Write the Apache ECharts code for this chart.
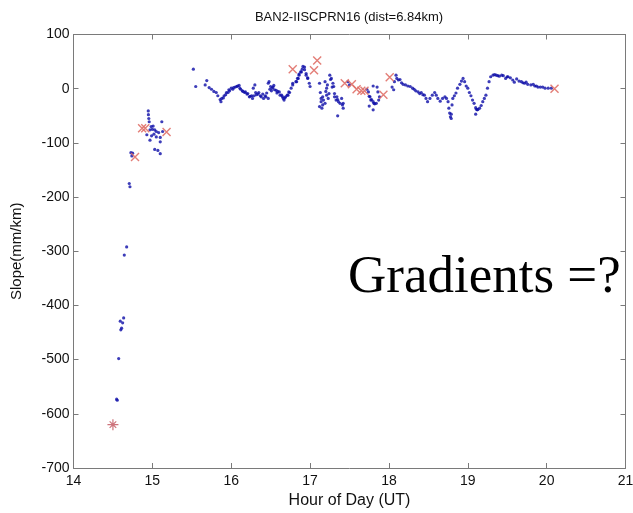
<!DOCTYPE html>
<html><head><meta charset="utf-8">
<script src="https://cdn.jsdelivr.net/npm/echarts@6/dist/echarts.min.js"></script>
<style>html,body{margin:0;padding:0;background:#fff}#c{width:633px;height:513px}</style>
</head><body><div id="c"></div>
<script>
var titleText = 'BAN2-IISCPRN16 (dist=6.84km)';
var xName = 'Hour of Day (UT)';
var yName = 'Slope(mm/km)';
var noteText = 'Gradients =?';
var xTicks = [14, 15, 16, 17, 18, 19, 20, 21];
var yTicks = [100, 0, -100, -200, -300, -400, -500, -600, -700];

// blue slope estimates [hour, slope]
var slopePoints = [
[14.547,-573],[14.555,-575],[14.573,-498],[14.593,-429],[14.60,-445],[14.61,-442],[14.623,-432],[14.636,-423],[14.644,-307],[14.674,-292],
[14.707,-175],[14.716,-181],[14.728,-118],[14.74,-124],[14.75,-119],
[14.93,-85],[14.948,-41],[14.95,-48],[14.955,-55],[14.96,-61],[14.97,-95],[14.97,-76],[14.985,-70],[14.99,-87],[15.0,-75],[15.01,-69],
[15.02,-84],[15.03,-112],[15.03,-76],[15.05,-79],[15.05,-89],[15.07,-114],[15.08,-81],[15.1,-98],[15.1,-120],[15.1,-90],[15.12,-61],[15.13,-79],
[15.52,36],[15.55,4],
[15.67,7],[15.69,15],[15.72,2],[15.75,-1],[15.78,-5],[15.81,-7],[15.83,-13],[15.86,-20],[15.87,-24],[15.88,-18],[15.9,-17],[15.91,-13],
[15.93,-11],[15.94,-7],[15.96,-7],[15.97,-2],[15.98,-4],[16.0,1],[16.02,-1],[16.03,2],[16.05,3],[16.07,4],[16.08,5],[16.1,6],[16.11,1],
[16.12,-1],[16.14,-4],[16.15,-5],[16.17,-7],[16.18,-6],[16.2,-10],[16.21,-9],[16.23,-15],[16.24,-14],[16.26,-13],[16.27,-18],[16.28,1],
[16.29,-13],[16.3,7],[16.31,-7],[16.32,-11],[16.34,-10],[16.35,-7],[16.37,-13],[16.38,-15],[16.4,-10],[16.41,-18],[16.43,-13],[16.44,-15],
[16.45,-8],[16.47,-18],[16.47,10],[16.48,13],[16.49,-1],[16.5,4],[16.51,-4],[16.52,1],[16.53,3],[16.54,6],[16.55,-2],[16.57,-3],[16.58,-8],
[16.59,-5],[16.61,-6],[16.62,-12],[16.64,-12],[16.65,-15],[16.66,-18],[16.67,-21],[16.68,-17],[16.69,-15],[16.71,-12],[16.72,-12],[16.73,-6],
[16.74,-7],[16.76,1],[16.78,7],[16.78,10],[16.82,13],[16.83,13],[16.84,19],[16.85,19],[16.86,25],[16.86,27],[16.88,31],[16.89,31],[16.9,36],
[16.91,41],[16.93,35],[16.93,40],[16.95,28],[16.95,25],[16.97,20],[16.97,19],[16.99,10],[17.0,4],
[17.12,10],[17.12,-33],[17.13,-7],[17.14,-18],[17.14,-24],[17.15,-36],[17.16,-30],[17.16,-15],[17.17,-21],[17.19,13],[17.19,-27],[17.2,-5],
[17.21,1],[17.21,-12],[17.22,7],[17.23,-18],[17.24,-9],[17.25,25],[17.26,17],[17.27,19],[17.28,3],[17.29,10],[17.3,4],[17.31,-9],[17.31,-15],
[17.33,-21],[17.34,-15],[17.35,-50],[17.35,-20],[17.36,-24],[17.38,-27],[17.4,-18],[17.41,-30],[17.42,-36],[17.42,-27],
[17.48,13],[17.5,7],
[17.72,-1],[17.74,-6],[17.75,-32],[17.75,-14],[17.76,-15],[17.77,-21],[17.78,-20],[17.8,-24],[17.8,-39],[17.8,5],[17.81,-27],[17.82,-28],
[17.84,-27],[17.85,3],[17.86,-6],[17.87,-21],[17.88,-15],
[18.04,3],[18.06,-2],[18.07,13],[18.09,25],[18.1,19],[18.12,16],[18.14,17],[18.16,11],[18.18,8],[18.21,7],[18.24,5],[18.27,4],[18.3,1],
[18.32,-1],[18.34,-4],[18.37,-6],[18.39,-9],[18.41,-7],[18.43,-11],[18.45,-12],[18.47,-18],[18.49,-24],[18.52,-18],[18.55,-12],[18.58,-7],
[18.6,-12],[18.62,-18],[18.65,-23],[18.68,-18],[18.71,-15],[18.73,-18],[18.75,-24],[18.76,-36],[18.77,-45],[18.78,-52],[18.79,-47],[18.79,-55],
[18.8,-30],[18.81,-18],[18.83,-13],[18.85,-8],[18.87,1],[18.9,8],[18.92,14],[18.94,19],[18.96,13],[18.98,5],[19.0,1],[19.02,-7],[19.04,-13],
[19.06,-21],[19.08,-27],[19.1,-35],[19.1,-47],[19.11,-38],[19.12,-39],[19.13,-38],[19.15,-36],[19.17,-31],[19.19,-24],[19.21,-18],[19.23,-12],
[19.25,1],[19.27,13],[19.29,22],[19.32,25],[19.34,26],[19.36,25],[19.38,24],[19.4,23],[19.43,25],[19.45,24],[19.48,19],[19.5,22],[19.51,22],
[19.54,20],[19.57,16],[19.59,12],[19.62,18],[19.65,14],[19.68,13],[19.7,11],[19.72,10],[19.74,12],[19.76,8],[19.8,7],[19.83,8],[19.85,5],
[19.87,5],[19.89,3],[19.92,3],[19.95,3],[19.98,1],[20.02,1],[20.06,1]
];

// red markers [hour, slope]
var flagStar = [[14.50,-620]];
var flagCross = [
[14.78,-126],[14.87,-73],[14.91,-73],[15.18,-80],[16.78,36],[17.05,34],[17.09,52],
[17.44,10],[17.53,8],[17.59,-1],[17.65,-4],[17.69,-4],[17.93,-11],[18.01,21],[20.10,0]
];

var chart = echarts.init(document.getElementById('c'));
var axisGray = '#7a7a7a';
var font = 'Liberation Sans, Arial, sans-serif';
chart.setOption({
  animation: false,
  backgroundColor: '#fff',
  title: {
    text: titleText, left: 344, top: 6, textAlign: 'center',
    textStyle: {fontFamily: font, fontSize: 13, fontWeight: 'normal', color: '#111'}
  },
  grid: {left: 73.5, right: 7.5, top: 34.5, bottom: 45, outerBoundsMode: 'none', containLabel: false},
  xAxis: [{
    type: 'value', min: 14, max: 21, interval: 1, position: 'bottom',
    name: xName, nameLocation: 'middle', nameGap: 24,
    nameTextStyle: {fontFamily: font, fontSize: 16, color: '#111'},
    axisLine: {show: true, onZero: false, lineStyle: {color: axisGray, width: 1}},
    axisTick: {show: true, inside: true, length: 5, lineStyle: {color: axisGray}},
    axisLabel: {fontFamily: font, fontSize: 14, color: '#111', margin: 6},
    splitLine: {show: false}
  }, {
    type: 'value', min: 14, max: 21, interval: 1, position: 'top',
    axisLine: {show: true, onZero: false, lineStyle: {color: axisGray, width: 1}},
    axisTick: {show: true, inside: true, length: 5, lineStyle: {color: axisGray}},
    axisLabel: {show: false}, splitLine: {show: false}
  }],
  yAxis: [{
    type: 'value', min: -700, max: 100, interval: 100, position: 'left',
    name: yName, nameLocation: 'middle', nameGap: 49,
    nameTextStyle: {fontFamily: font, fontSize: 15, color: '#111'},
    axisLine: {show: true, onZero: false, lineStyle: {color: axisGray, width: 1}},
    axisTick: {show: true, inside: true, length: 5, lineStyle: {color: axisGray}},
    axisLabel: {fontFamily: font, fontSize: 14, color: '#111', margin: 4},
    splitLine: {show: false}
  }, {
    type: 'value', min: -700, max: 100, interval: 100, position: 'right',
    axisLine: {show: true, onZero: false, lineStyle: {color: axisGray, width: 1}},
    axisTick: {show: true, inside: true, length: 5, lineStyle: {color: axisGray}},
    axisLabel: {show: false}, splitLine: {show: false}
  }],
  series: [{
    type: 'scatter', data: slopePoints, symbol: 'circle', symbolSize: 3.2,
    itemStyle: {color: '#0c0ca8'}, z: 2
  }, {
    type: 'scatter', data: flagCross, symbol: 'path://M0,0L10,10M10,0L0,10', symbolSize: 8,
    itemStyle: {color: 'rgba(0,0,0,0)', borderColor: '#e07068', borderWidth: 1.4, opacity: 0.9}, z: 3
  }, {
    type: 'scatter', data: flagStar, symbol: 'path://M0,5L10,5M5,0L5,10M2,2L8,8M8,2L2,8', symbolSize: 11,
    itemStyle: {color: 'rgba(0,0,0,0)', borderColor: '#c0505a', borderWidth: 1.2}, z: 3
  }],
  graphic: [{
    type: 'text', left: 348, top: 252, z: 10,
    style: {text: noteText, font: '53px "Liberation Serif", "Times New Roman", serif', fill: '#000'}
  }]
});
</script></body></html>
